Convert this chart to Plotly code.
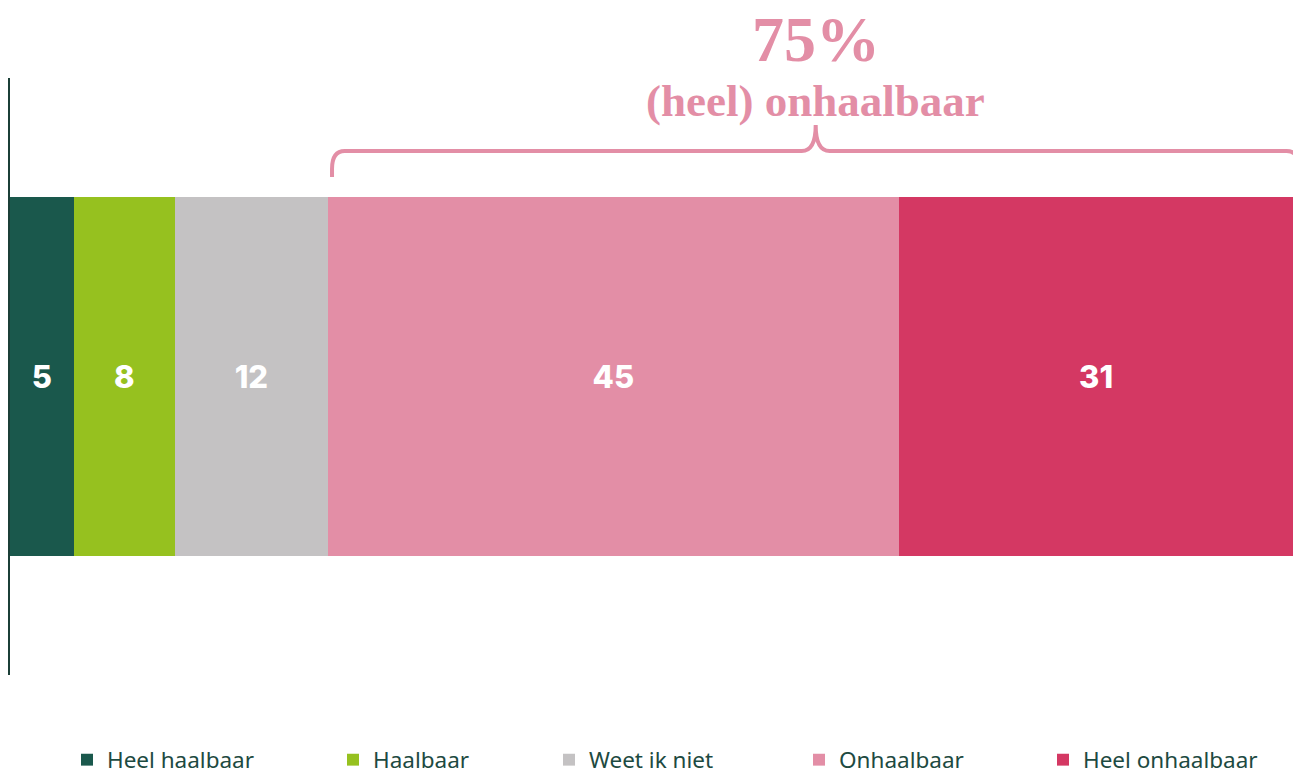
import plotly.graph_objects as go

# ---- data ----
categories = ["Heel haalbaar", "Haalbaar", "Weet ik niet", "Onhaalbaar", "Heel onhaalbaar"]
values = [5, 8, 12, 45, 31]
colors = ["#1a584c", "#96c11f", "#c4c2c3", "#e38ea6", "#d43863"]
question = ["Haalbaarheid"]
headline_value = "75%"
headline_label = "(heel) onhaalbaar"
bracket_categories = ["Onhaalbaar", "Heel onhaalbaar"]

total = sum(values)
W, H = 1293, 775
ML, MR, MT, MB = 10, 0, 78, 100
PW, PH = W - ML - MR, H - MT - MB

pink = "#e38ea6"
dark = "#1d4a41"

def paper_y(row):
    return (H - MB - row) / PH

def axis_y(row):
    return 0.5 - (row - MT) / PH

fig = go.Figure()
legend_symbol_left = [84, 350, 566, 816, 1060]
for i, (cat, val, col) in enumerate(zip(categories, values, colors)):
    lname = "legend" if i == 0 else f"legend{i+1}"
    fig.add_trace(go.Bar(
        y=question, x=[val], name=cat, orientation="h",
        marker=dict(color=col, line=dict(width=0)),
        text=[val], texttemplate="%{x}", textposition="inside",
        insidetextanchor="middle",
        textfont=dict(family="Inter, Open Sans, sans-serif", size=31, color="white", weight=800),
        legend=lname, hoverinfo="skip",
    ))

# bracket over the "onhaalbaar" categories (data coordinates)
start_idx = categories.index(bracket_categories[0])
x0 = sum(values[:start_idx]) + 0.35
x1 = total + 0.5
mid = (x0 + x1) / 2
yb, yh, ypk = axis_y(177), axis_y(151), axis_y(125)
rx, ry = 1.0, 0.03
path = (f"M{x0},{yb} L{x0},{yh-ry} Q{x0},{yh} {x0+rx},{yh} "
        f"L{mid-1.1},{yh} Q{mid},{yh} {mid},{ypk} "
        f"Q{mid},{yh} {mid+1.1},{yh} "
        f"L{x1-rx},{yh} Q{x1},{yh} {x1},{yh-ry} L{x1},{yb}")
fig.add_shape(type="path", path=path, xref="x", yref="y",
              line=dict(color=pink, width=4), layer="above")

fig.add_annotation(x=mid, xref="x", y=paper_y(39), yref="paper", yanchor="middle",
                   text=f"<b>{headline_value}</b>", showarrow=False,
                   font=dict(family="Liberation Serif, DejaVu Serif, serif", size=64, color=pink))
fig.add_annotation(x=mid, xref="x", y=paper_y(101), yref="paper", yanchor="middle",
                   text=f"<b>{headline_label}</b>", showarrow=False,
                   font=dict(family="Liberation Serif, DejaVu Serif, serif", size=45, color=pink))

layout_legends = {}
for i, sx in enumerate(legend_symbol_left):
    key = "legend" if i == 0 else f"legend{i+1}"
    layout_legends[key] = dict(
        x=(sx - 17 - ML) / PW, xanchor="left", y=paper_y(760), yanchor="middle",
        orientation="h", bgcolor="rgba(0,0,0,0)", borderwidth=0,
        font=dict(family="Noto Sans, Open Sans, sans-serif", size=22.5, color=dark),
        itemwidth=30,
    )

fig.update_layout(
    width=W, height=H,
    margin=dict(l=ML, r=MR, t=MT, b=MB, pad=0, autoexpand=False),
    barmode="stack", bargap=0.4,
    plot_bgcolor="white", paper_bgcolor="white",
    xaxis=dict(range=[0, total], visible=False, fixedrange=True),
    yaxis=dict(range=[-0.5, 0.5], showline=True, linecolor="#1b3f37", linewidth=2,
               showticklabels=False, showgrid=False, zeroline=False, ticks="", fixedrange=True),
    showlegend=True,
    **layout_legends,
)

fig.write_html("out.html", config={"displayModeBar": False},
               post_script="document.body.style.margin='0';document.body.style.overflow='hidden';")
